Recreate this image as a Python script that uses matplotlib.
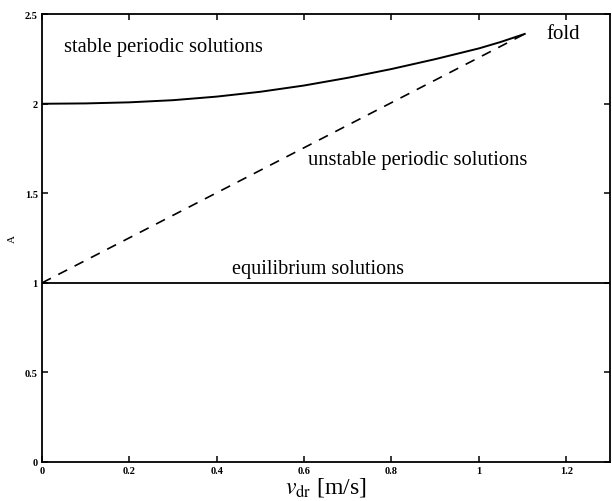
import matplotlib
matplotlib.use("Agg")
from matplotlib import pyplot as plt

plt.rcParams['font.family'] = ['Liberation Serif', 'DejaVu Serif']
plt.rcParams['mathtext.fontset'] = 'stix'

# branches
stable_v = [0.0, 0.1, 0.2, 0.3, 0.4, 0.5, 0.6, 0.7, 0.8, 0.9, 1.0, 1.05, 1.105]
stable_A = [2.0, 2.002, 2.008, 2.02, 2.04, 2.067, 2.102, 2.145, 2.194, 2.249, 2.309, 2.345, 2.39]
unstable_v = [0.0, 1.105]
unstable_A = [1.0, 2.39]
equil_v = [0.0, 1.3]
equil_A = [1.0, 1.0]

xticks = [0, 0.2, 0.4, 0.6, 0.8, 1, 1.2]
xticklabels = ['0', '0.2', '0.4', '0.6', '0.8', '1', '1.2']
yticks = [0, 0.5, 1, 1.5, 2, 2.5]
yticklabels = ['0', '0.5', '1', '1.5', '2', '2.5']

fig = plt.figure(figsize=(6.12, 5.02), dpi=100)
ax = fig.add_axes([0.0686, 0.0777, 0.928, 0.892])

ax.plot(stable_v, stable_A, '-', color='black', lw=1.4)
ax.plot(unstable_v, unstable_A, color='black', lw=1.2, dashes=(6, 5))
ax.plot(equil_v, equil_A, '-', color='black', lw=1.3)

ax.text(0.05, 2.32, 'stable periodic solutions', fontsize=14.8, va='center')
ax.text(0.61, 1.69, 'unstable periodic solutions', fontsize=14.8, va='center')
ax.text(0.435, 1.08, 'equilibrium solutions', fontsize=14.5, va='center')
ax.text(1.155, 2.39, 'fold', fontsize=15, va='center')

ax.set_xlim(0, 1.3)
ax.set_ylim(0, 2.5)
ax.set_xticks(xticks)
ax.set_xticklabels(xticklabels, fontsize=7.5, fontweight='bold')
ax.set_yticks(yticks)
ax.set_yticklabels(yticklabels, fontsize=7.5, fontweight='bold')
ax.tick_params(direction='in', top=True, right=True, length=4, width=1.1, pad=3)
for sp in ax.spines.values():
    sp.set_linewidth(1.3)

ax.set_xlabel(r'$v_{\mathrm{dr}}$ [m/s]', fontsize=17, labelpad=0)
ax.set_ylabel('A', fontsize=8, labelpad=6)

fig.savefig('out.png', dpi=100)
